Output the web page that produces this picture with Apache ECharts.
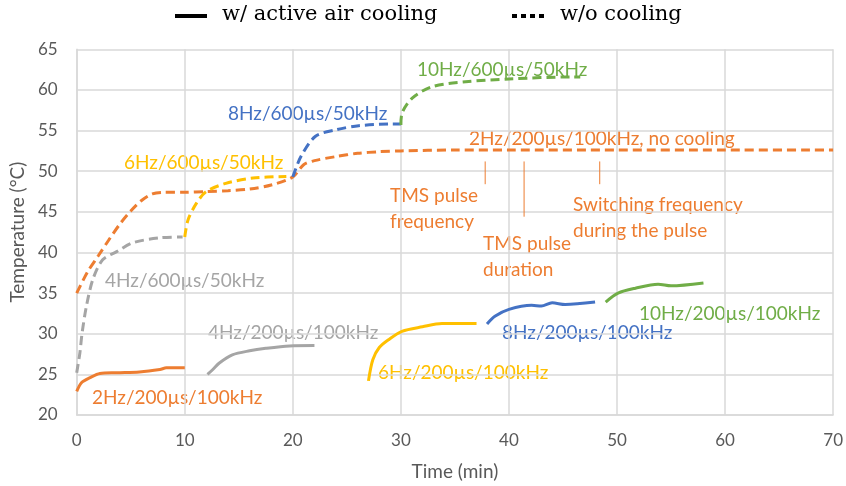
<!DOCTYPE html>
<html><head><meta charset="utf-8">
<script src="https://cdn.jsdelivr.net/npm/echarts@6/dist/echarts.min.js"></script>
<style>html,body{margin:0;padding:0;background:#fff}#c{width:846px;height:486px}</style>
</head><body><div id="c"></div>
<script>
// ---- data (time in min, temperature in °C) ----
const noCool_2Hz = [[0,35],[1,37.6],[2,39.6],[3,41.6],[4,43.5],[5,45.1],[6,46.4],[7,47.2],[8,47.4],[10,47.4],[12,47.5],[14,47.6],[16,47.8],[18,48.3],[20,49.3],[21,50.8],[22,51.3],[24,51.8],[26,52.2],[28,52.4],[30,52.5],[35,52.6],[40,52.6],[50,52.6],[60,52.6],[70,52.6]];
const noCool_4Hz = [[0,25.2],[0.3,27.7],[0.5,30.1],[0.9,33.4],[1.5,36.7],[2.4,39.1],[3.7,40.1],[5.2,41.2],[7.7,41.8],[9.8,41.9]];
const noCool_6Hz = [[10,41.9],[10.3,44.0],[11.1,46.1],[12.0,47.5],[13.8,48.5],[16.3,49.15],[19.4,49.35]];
const noCool_8Hz = [[20,49.3],[20.75,51.8],[22.1,54.3],[24,55.1],[26.1,55.6],[29.2,55.8],[30,55.8]];
const noCool_10Hz = [[30,55.7],[30.1,57.1],[31.05,59.0],[32.9,60.4],[36,61.0],[40,61.35],[45.8,61.6],[46.6,61.6]];

const cool_2Hz = [[0,22.9],[0.46,24.0],[1.24,24.6],[2.15,25.1],[3.7,25.2],[5.8,25.3],[7.7,25.6],[8.3,25.8],[10,25.8]];
const cool_4Hz = [[12.1,25.0],[12.6,25.6],[13.2,26.4],[14.4,27.4],[16.0,27.9],[17.5,28.2],[19.7,28.5],[22.0,28.55]];
const cool_6Hz = [[27.0,24.2],[27.4,26.8],[28.0,28.3],[28.9,29.3],[30.1,30.3],[32.0,30.85],[33.8,31.25],[37.0,31.25]];
const cool_8Hz = [[37.97,31.2],[38.7,32.15],[40.0,33.0],[42.1,33.5],[43.0,33.4],[44.0,33.8],[45.2,33.6],[47.97,33.9]];
const cool_10Hz = [[48.95,33.9],[50.1,35.0],[51.7,35.6],[53.8,36.1],[55.0,35.9],[58.0,36.25]];

// annotation pointer ticks
const pointer_freq = [[37.8,51.2],[37.8,48.4]];
const pointer_dur = [[41.4,51.2],[41.4,44.4]];
const pointer_sw = [[48.4,51.2],[48.4,48.4]];

const xAxisRange = {min:0, max:70, interval:10};
const yAxisRange = {min:20, max:65, interval:5};

const C = {orange:'#ED7D31', gray:'#A5A5A5', yellow:'#FFC000', blue:'#4472C4', green:'#70AD47'};
const FONT = 'Lato, "Open Sans", sans-serif';

function line(data, color, dashed){
  return {type:'line', data, showSymbol:false, smooth:0.3, silent:true,
    lineStyle:{color, width:3, type: dashed ? [9,5] : 'solid', cap:'butt'}};
}
function tick(data){
  return {type:'line', data, showSymbol:false, silent:true, lineStyle:{color:C.orange, width:1}};
}

const chart = echarts.init(document.getElementById('c'));
function lbl(text, left, top, color){
  return {type:'text', left, top, style:{text, fill:color, font:'19px '+FONT, lineHeight:26}};
}
chart.setOption({
  animation:false,
  grid:{left:76.7, right:10.5, top:49.3, bottom:70.3},
  xAxis:{type:'value', ...xAxisRange,
    name:'Time (min)', nameLocation:'middle', nameGap:47,
    nameTextStyle:{color:'#595959', fontSize:19, fontFamily:FONT},
    axisLine:{show:true, lineStyle:{color:'#d9d9d9', width:1.5}}, axisTick:{show:false},
    axisLabel:{color:'#595959', fontSize:17, fontFamily:FONT, margin:17},
    splitLine:{show:true, lineStyle:{color:'#d9d9d9', width:1.5}}},
  yAxis:{type:'value', ...yAxisRange,
    name:'Temperature (°C)', nameLocation:'middle', nameGap:46,
    nameTextStyle:{color:'#595959', fontSize:19, fontFamily:FONT},
    axisLine:{show:true, lineStyle:{color:'#d9d9d9', width:1.5}}, axisTick:{show:false},
    axisLabel:{color:'#595959', fontSize:17, fontFamily:FONT, margin:19},
    splitLine:{show:true, lineStyle:{color:'#d9d9d9', width:1.5}}},
  series:[
    line(noCool_2Hz, C.orange, true),
    line(noCool_4Hz, C.gray, true),
    line(noCool_6Hz, C.yellow, true),
    line(noCool_8Hz, C.blue, true),
    line(noCool_10Hz, C.green, true),
    line(cool_2Hz, C.orange, false),
    line(cool_4Hz, C.gray, false),
    line(cool_6Hz, C.yellow, false),
    line(cool_8Hz, C.blue, false),
    line(cool_10Hz, C.green, false),
    tick(pointer_freq), tick(pointer_dur), tick(pointer_sw)
  ],
  graphic:[
    {type:'rect', left:175, top:14, shape:{width:32, height:4}, style:{fill:'#000'}},
    {type:'text', left:222, top:4, style:{text:'w/ active air cooling', fill:'#000', font:'21px "DejaVu Serif", "Liberation Serif", serif'}},
    {type:'rect', left:512, top:14, shape:{width:5, height:4}, style:{fill:'#000'}},
    {type:'rect', left:521, top:14, shape:{width:5, height:4}, style:{fill:'#000'}},
    {type:'rect', left:530, top:14, shape:{width:5, height:4}, style:{fill:'#000'}},
    {type:'rect', left:539, top:14, shape:{width:5, height:4}, style:{fill:'#000'}},
    {type:'text', left:560, top:4, style:{text:'w/o cooling', fill:'#000', font:'21px "DejaVu Serif", "Liberation Serif", serif'}},
    lbl('10Hz/600µs/50kHz', 417, 57, C.green),
    lbl('8Hz/600µs/50kHz', 228, 101, C.blue),
    lbl('6Hz/600µs/50kHz', 124, 150, C.yellow),
    lbl('2Hz/200µs/100kHz, no cooling', 469, 126, C.orange),
    lbl('TMS pulse\nfrequency', 390, 183, C.orange),
    lbl('TMS pulse\nduration', 483, 231, C.orange),
    lbl('Switching frequency\nduring the pulse', 573, 192, C.orange),
    lbl('4Hz/600µs/50kHz', 105, 268, C.gray),
    lbl('4Hz/200µs/100kHz', 208, 320, C.gray),
    lbl('2Hz/200µs/100kHz', 92, 385, C.orange),
    lbl('6Hz/200µs/100kHz', 378, 360, C.yellow),
    lbl('8Hz/200µs/100kHz', 502, 320, C.blue),
    lbl('10Hz/200µs/100kHz', 639, 301, C.green)
  ]
});
</script></body></html>
